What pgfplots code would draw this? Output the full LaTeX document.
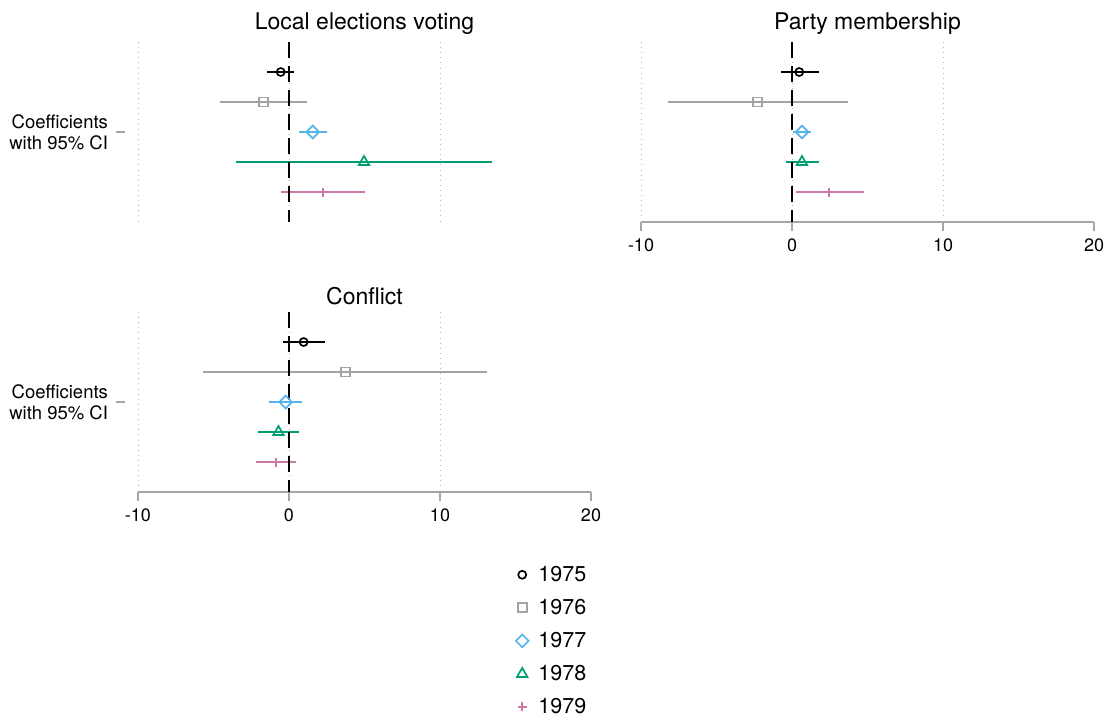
\documentclass[border=0pt]{standalone}
\usepackage{pgfplots}
\pgfplotsset{compat=1.18}
\usepackage{pgfplotstable}
\usepackage{fontspec}
\setmainfont{TeX Gyre Heros}

\definecolor{cgray}{HTML}{A3A3A3}
\definecolor{cblue}{HTML}{56B4E9}
\definecolor{cgreen}{HTML}{009E73}
\definecolor{cpink}{HTML}{CC79A7}
\definecolor{axgray}{HTML}{A6A6A6}

% Point estimates (b) with 95% confidence bounds (lo, hi); row = position on the y axis
\pgfplotstableread{
year row b lo hi
1975 1 -0.55 -1.44 0.33
1976 2 -1.70 -4.60 1.21
1977 3 1.57 0.68 2.50
1978 4 4.97 -3.51 13.44
1979 5 2.23 -0.55 5.03
}\localvote
\pgfplotstableread{
year row b lo hi
1975 1 0.48 -0.75 1.80
1976 2 -2.29 -8.22 3.74
1977 3 0.66 0.09 1.27
1978 4 0.66 -0.40 1.80
1979 5 2.46 0.26 4.75
}\party
\pgfplotstableread{
year row b lo hi
1975 1 0.97 -0.40 2.38
1976 2 3.74 -5.68 13.14
1977 3 -0.22 -1.32 0.88
1978 4 -0.70 -2.07 0.66
1979 5 -0.83 -2.20 0.49
}\conflict

\pgfplotsset{
  ci/.style={only marks,
    every mark/.append style={solid, line width=1.7pt, fill=none},
    error bars/x dir=both, error bars/x explicit, error bars/error mark=none,
    error bars/error bar style={line width=1.6pt, solid}},
  y75/.style={ci, black, mark=o, mark size=4pt},
  y76/.style={ci, cgray, mark=square, mark size=4.5pt},
  y77/.style={ci, cblue, mark=square, mark size=4.5pt,
    every mark/.append style={rotate=45}},
  y78/.style={ci, cgreen, mark=triangle, mark size=6pt},
  y79/.style={ci, cpink, mark=+, mark size=4.5pt,
    every mark/.append style={line width=2pt}},
  panel/.style={
    scale only axis, width=453pt, height=180pt,
    xmin=-10, xmax=20, ymin=0, ymax=6, y dir=reverse,
    axis x line*=bottom, axis y line*=left,
    y axis line style={draw=none},
    x axis line style={axgray, line width=1.4pt},
    xtick={-10,0,10}, extra x ticks={20}, extra x tick style={grid=none},
    xmajorgrids,
    major x grid style={gray!60, line width=0.9pt, dash pattern=on 0.9pt off 4.2pt},
    ytick={3}, yticklabels={{Coefficients\\with 95\% CI}},
    yticklabel style={align=right, font=\fontsize{18.5}{21}\selectfont, xshift=-18pt},
    y tick style={axgray, line width=1.2pt, xshift=-13pt},
    tick align=outside, major tick length=8.5pt,
    x tick style={axgray, line width=1.4pt},
    xticklabel style={font=\fontsize{18}{20}\selectfont, yshift=-5pt},
    /pgf/number format/assume math mode=true,
    title style={font=\fontsize{23}{26}\selectfont, at={(0.5,1)}, anchor=south, yshift=-2pt},
    clip=false,
  },
  zeroline/.style={black, line width=1.3pt, dash pattern=on 16pt off 8pt, forget plot},
}

\newcommand\ciplot[3]{%
  \addplot[#2, restrict expr to domain={\thisrow{row}}{#3:#3}]
    table[x=b, y=row,
          x error plus expr=\thisrow{hi}-\thisrow{b},
          x error minus expr=\thisrow{b}-\thisrow{lo}] {#1};}

\begin{document}
\begin{tikzpicture}
\path[use as bounding box] (0,0) rectangle (1113pt,-721pt);

% Local elections voting
\begin{axis}[panel, at={(138pt,-222pt)}, anchor=south west,
  title={Local elections voting},
  x axis line style={draw=none}, x tick style={draw=none},
  xticklabels={}, extra x tick labels={}]
  \ciplot{\localvote}{y75}{1}
  \ciplot{\localvote}{y76}{2}
  \ciplot{\localvote}{y77}{3}
  \ciplot{\localvote}{y78}{4}
  \ciplot{\localvote}{y79}{5}
  \addplot[zeroline] coordinates {(0,0) (0,6)};
\end{axis}

% Party membership
\begin{axis}[panel, at={(641pt,-222pt)}, anchor=south west,
  title={Party membership}, ytick=\empty]
  \ciplot{\party}{y75}{1}
  \ciplot{\party}{y76}{2}
  \ciplot{\party}{y77}{3}
  \ciplot{\party}{y78}{4}
  \ciplot{\party}{y79}{5}
  \addplot[zeroline] coordinates {(0,0) (0,6)};
\end{axis}

% Conflict, with the shared legend underneath
\begin{axis}[panel, at={(138pt,-492pt)}, anchor=south west,
  title={Conflict},
  legend cell align=left,
  legend image code/.code={\draw[#1] plot coordinates {(0pt,0pt)};
    \path (-8pt,0pt) (14pt,0pt);},
  legend style={at={(0.823,-0.39)}, anchor=north west, draw=none, fill=none,
    font=\fontsize{21.5}{24}\selectfont, row sep=12.3pt}]
  \ciplot{\conflict}{y75}{1}
  \ciplot{\conflict}{y76}{2}
  \ciplot{\conflict}{y77}{3}
  \ciplot{\conflict}{y78}{4}
  \ciplot{\conflict}{y79}{5}
  \addplot[zeroline] coordinates {(0,0) (0,6)};
  \legend{1975,1976,1977,1978,1979}
\end{axis}
\end{tikzpicture}
\end{document}
